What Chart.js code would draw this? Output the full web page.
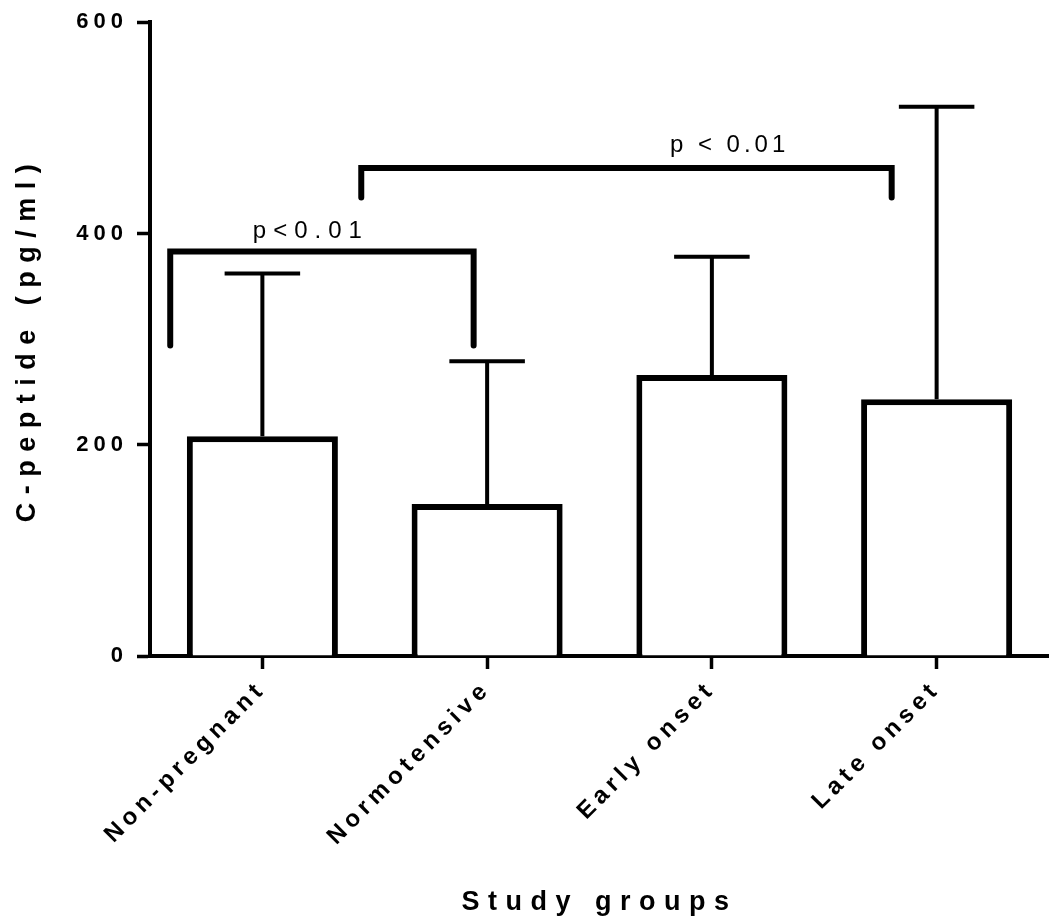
<!DOCTYPE html>
<html>
<head>
<meta charset="utf-8">
<script src="https://cdn.jsdelivr.net/npm/chart.js@4.4.1/dist/chart.umd.min.js"></script>
<style>
  html, body { margin: 0; padding: 0; background: #fff; }
  canvas { display: block; }
</style>
</head>
<body>
<canvas id="myChart" width="1049" height="921"></canvas>
<script>
// Groups on the x axis
const groups = ['Non-pregnant', 'Normotensive', 'Early onset', 'Late onset'];
// Mean C-peptide (pg/ml) and SD per group
const meanValues = [208, 144, 266, 243];
const sdValues = [154, 135, 112, 277];
const yTicks = [0, 200, 400, 600];

// Significance brackets (x in group index units, y in pg/ml)
const bracketFrom = [-0.41, 0.44];
const bracketTo = [0.94, 2.8];
const bracketLow = [294, 434];
const bracketHigh = [383, 462];
const pLabels = ['p<0.01', 'p < 0.01'];
const pLabelX = [0.2, 2.07];
const pLabelY = [396, 477];

const FONT = '"Liberation Sans", Arial, Helvetica, sans-serif';
const TICK_SPACING = '5px';
const TITLE_SPACING = '8.5px';
const P_SPACING = [7, 4];

// letter spacing + error bars + p-value text
const extrasPlugin = {
    id: 'extras',
    beforeLayout(chart) {
        chart.ctx.letterSpacing = TICK_SPACING;
    },
    beforeDraw(chart) {
        // axis titles are drawn in the grid layer, before the datasets
        chart.ctx.letterSpacing = TITLE_SPACING;
    },
    afterDatasetsDraw(chart) {
        const ctx = chart.ctx;
        const y = chart.scales.y;
        const meta = chart.getDatasetMeta(0);
        ctx.save();
        ctx.letterSpacing = '0px';
        ctx.strokeStyle = '#000';
        ctx.lineWidth = 4;
        meta.data.forEach(function (bar, i) {
            const top = y.getPixelForValue(meanValues[i] + sdValues[i]);
            const half = bar.width / 4;
            ctx.beginPath();
            ctx.moveTo(bar.x, bar.y);
            ctx.lineTo(bar.x, top);
            ctx.moveTo(bar.x - half, top);
            ctx.lineTo(bar.x + half, top);
            ctx.stroke();
        });
        ctx.restore();
        // tick labels are drawn after this (ticks.z = 1)
        ctx.letterSpacing = TICK_SPACING;
    },
    afterDraw(chart) {
        const ctx = chart.ctx;
        const xb = chart.scales.xb;
        const y = chart.scales.y;
        ctx.save();
        ctx.font = '24px ' + FONT;
        ctx.fillStyle = '#000';
        ctx.textAlign = 'center';
        ctx.textBaseline = 'alphabetic';
        pLabels.forEach(function (txt, i) {
            ctx.letterSpacing = P_SPACING[i] + 'px';
            ctx.fillText(txt, xb.getPixelForValue(pLabelX[i]) + P_SPACING[i] / 2, y.getPixelForValue(pLabelY[i]));
        });
        ctx.restore();
    }
};

const bracketSets = bracketFrom.map(function (from, i) {
    return {
        type: 'line',
        xAxisID: 'xb',
        yAxisID: 'y',
        data: [
            { x: from, y: bracketLow[i] },
            { x: from, y: bracketHigh[i] },
            { x: bracketTo[i], y: bracketHigh[i] },
            { x: bracketTo[i], y: bracketLow[i] }
        ],
        borderColor: '#000',
        borderWidth: 6,
        borderCapStyle: 'round',
        borderJoinStyle: 'miter',
        pointRadius: 0,
        fill: false,
        tension: 0
    };
});

const ctx = document.getElementById('myChart').getContext('2d');
new Chart(ctx, {
    type: 'bar',
    data: {
        labels: groups,
        datasets: [{
            data: meanValues,
            backgroundColor: '#fff',
            borderColor: '#000',
            borderWidth: 6,
            grouped: false,
            barPercentage: 0.672,
            categoryPercentage: 1
        }].concat(bracketSets)
    },
    options: {
        responsive: false,
        animation: false,
        events: [],
        layout: { padding: { top: 21, right: 0, bottom: 0, left: 0 } },
        plugins: {
            legend: { display: false },
            tooltip: { enabled: false }
        },
        scales: {
            x: {
                type: 'category',
                offset: true,
                afterFit: function (scale) { scale.height = 265; },
                grid: {
                    display: true,
                    offset: false,
                    drawOnChartArea: false,
                    drawTicks: true,
                    tickLength: 13,
                    tickWidth: 3.5,
                    tickColor: '#000',
                    color: '#000'
                },
                border: { display: true, color: '#000', width: 4 },
                ticks: {
                    z: 1,
                    color: '#000',
                    font: { family: FONT, size: 24, weight: 'bold' },
                    minRotation: 45,
                    maxRotation: 45,
                    autoSkip: false,
                    padding: 6
                },
                title: {
                    display: true,
                    text: 'Study groups',
                    color: '#000',
                    font: { family: FONT, size: 27, weight: 'bold' },
                    padding: { top: 0, bottom: 2 }
                }
            },
            xb: {
                type: 'linear',
                display: false,
                min: -0.5,
                max: 3.5,
                offset: false
            },
            y: {
                min: 0,
                max: 600,
                afterFit: function (scale) { scale.width = 150; },
                afterBuildTicks: function (scale) {
                    scale.ticks = yTicks.map(function (v) { return { value: v }; });
                },
                grid: {
                    display: true,
                    drawOnChartArea: false,
                    drawTicks: true,
                    tickLength: 13,
                    tickWidth: 3.5,
                    tickColor: '#000',
                    color: '#000'
                },
                border: { display: true, color: '#000', width: 4 },
                ticks: {
                    z: 1,
                    color: '#000',
                    font: { family: FONT, size: 22, weight: 'bold' },
                    padding: 9
                },
                title: {
                    display: true,
                    text: 'C-peptide (pg/ml)',
                    color: '#000',
                    font: { family: FONT, size: 27, weight: 'bold' },
                    padding: { top: 11, bottom: 0 }
                }
            }
        }
    },
    plugins: [extrasPlugin]
});
</script>
</body>
</html>
